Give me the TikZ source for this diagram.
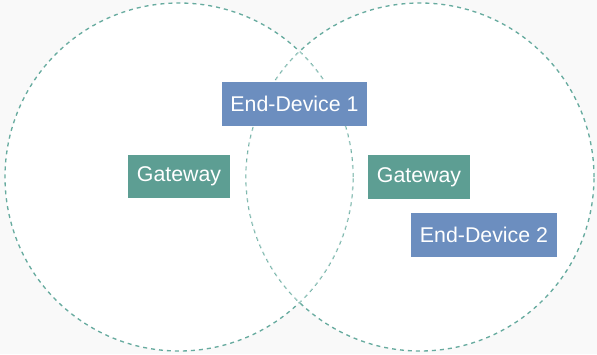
\documentclass[tikz,border=0pt]{standalone}
\usepackage{fontspec}
\setmainfont{Liberation Sans}
\definecolor{devblue}{HTML}{6C8EBF}
\definecolor{gwgreen}{HTML}{5D9E93}
\definecolor{rangeline}{HTML}{67AB9F}
\definecolor{bggray}{HTML}{F9F9F9}
\begin{document}
\begin{tikzpicture}[
    x=0.75pt, y=-0.75pt,
    coverage/.style={draw=rangeline, line width=1pt, dash pattern=on 3pt off 3pt},
    device/.style={rectangle, fill=devblue, text=white, font=\fontsize{16}{19}\selectfont,
        minimum width=109pt, minimum height=33.5pt, inner sep=0pt},
    gateway/.style={rectangle, fill=gwgreen, text=white, font=\fontsize{16}{19}\selectfont,
        minimum width=76.5pt, minimum height=32.5pt, inner sep=0pt}
]
% background and margins
\fill[bggray] (0,0) rectangle (597,354);
\useasboundingbox (0,0) rectangle (597,354);
% coverage ranges
\fill[white] (179,177) circle[radius=130.5pt] (420,177) circle[radius=130.5pt];
\draw[coverage] (179,177) circle[radius=130.5pt];
\draw[coverage] (420,177) circle[radius=130.5pt];
\begin{scope}
  \clip (179,177) circle[radius=130.5pt];
  \fill[white, opacity=0.55] (420,177) circle[radius=130.5pt];
\end{scope}
% nodes
\node (GatewayA) [gateway] at (179,176.5) {Gateway};
\node (GatewayB) [gateway] at (419,177) {Gateway};
\node (Device01) [device] at (294.5,104) {End-Device 1};
\node (Device02) [device] at (484,235) {End-Device 2};
\end{tikzpicture}
\end{document}
